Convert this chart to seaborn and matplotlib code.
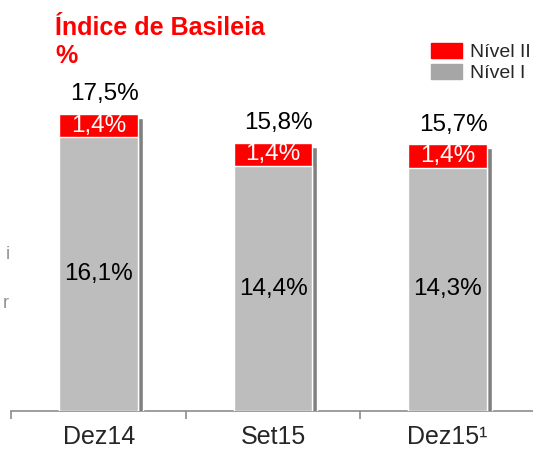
import matplotlib
matplotlib.use("Agg")
import matplotlib.pyplot as plt
import matplotlib.transforms as mtransforms
from matplotlib.patches import Patch
import seaborn as sns

periods = ["Dez14", "Set15", "Dez15¹"]
tier1 = [16.1, 14.4, 14.3]
tier2 = [1.4, 1.4, 1.4]
total = [17.5, 15.8, 15.7]

red = "#FF0000"
grey = "#BDBDBD"
shadow = "#808080"

sns.set_style("white")
plt.rcParams["font.family"] = ["Liberation Sans", "DejaVu Sans"]

fig = plt.figure(figsize=(5.33, 4.5), dpi=100)
ax = fig.add_axes([0.0214, 0.0867, 0.982, 0.691])

# drop shadow behind the bars
shift = mtransforms.offset_copy(ax.transData, fig=fig, x=5, y=-4, units="dots")
ax.bar(range(3), total, width=0.45, color=shadow, transform=shift, zorder=1)

sns.barplot(x=periods, y=total, color=red, width=0.45, saturation=1, ax=ax, zorder=2)
sns.barplot(x=periods, y=tier1, color=grey, width=0.45, saturation=1, ax=ax, zorder=3)

for i in range(3):
    ax.annotate(f"{total[i]:.1f}%".replace(".", ","), (i, total[i]), xytext=(4, 6),
                textcoords="offset points", ha="center", va="bottom", fontsize=17.5, color="black")
    ax.text(i, tier1[i] + tier2[i] / 2, f"{tier2[i]:.1f}%".replace(".", ","),
            ha="center", va="center", fontsize=17.5, color="white", zorder=5)
    ax.text(i, tier1[i] / 2, f"{tier1[i]:.1f}%".replace(".", ","),
            ha="center", va="center", fontsize=17.5, color="black", zorder=5)

ax.set_xlim(-0.5, 2.5)
ax.set_ylim(0, 18.3)
ax.set_yticks([])
ax.set_ylabel("")
ax.set_xlabel("")
for side in ["top", "right", "left"]:
    ax.spines[side].set_visible(False)
ax.spines["bottom"].set_color("#8C8C8C")
ax.spines["bottom"].set_linewidth(1.2)
ax.spines["bottom"].set_zorder(0)
ax.set_xticks([-0.5, 0.5, 1.5, 2.5], minor=True)
ax.tick_params(axis="x", which="minor", length=6, width=1.2, color="#8C8C8C", direction="out", bottom=True)
ax.tick_params(axis="x", which="major", length=0, labelsize=18, pad=10)

handles = [Patch(color=red, label="Nível II"), Patch(color="#A6A6A6", label="Nível I")]
fig.legend(handles=handles, loc="upper right", bbox_to_anchor=(1.01, 0.922), frameon=False,
           fontsize=14, handlelength=1.6, handleheight=0.8, handletextpad=0.4, labelspacing=0.15,
           borderaxespad=0)

fig.text(0.103, 0.922, "Índice de Basileia", color=red, fontsize=18, fontweight="bold", va="baseline")
fig.text(0.103, 0.860, "%", color=red, fontsize=18, fontweight="bold", va="baseline")

# cut-off text at the left edge of the slide
fig.text(0.018, 0.425, "i", color="#909090", fontsize=13, ha="right", va="baseline")
fig.text(0.016, 0.315, "r", color="#909090", fontsize=13, ha="right", va="baseline")

fig.savefig("out.png", dpi=100)
